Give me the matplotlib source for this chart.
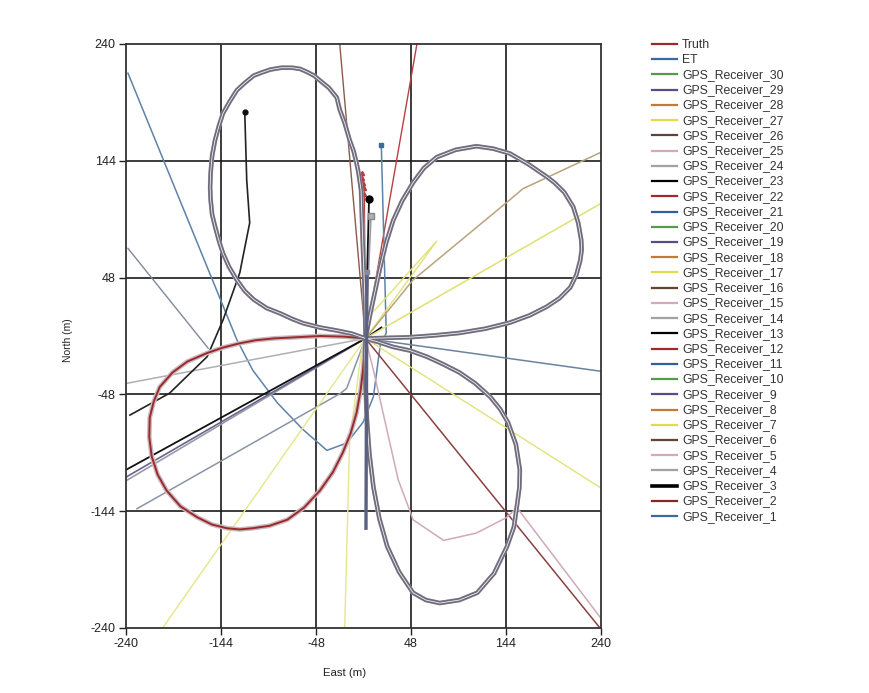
import matplotlib
matplotlib.use('Agg')
import matplotlib.pyplot as plt
from matplotlib.lines import Line2D

plt.rcParams['font.family'] = ['Liberation Sans', 'DejaVu Sans']

# ---------------- data (metres) ----------------
tick_values = [-240, -144, -48, 48, 144, 240]
tick_labels = ['-240', '-144', '-48', '48', '144', '240']

# Truth trajectory: clover with four lobes, each starting at the centre
ul_east = [2, 1.5, -0.5, -2.5, -5, -7, -10, -14, -19, -24, -27, -35, -44, -50, -57, -64, -72, -83, -94, -103,
           -111, -120, -128, -135, -142, -146, -150, -153, -154.5, -155, -154.5, -153, -150, -146, -142, -136,
           -128, -120, -111, -98, -84, -72, -61, -44, -27, -12]
ul_north = [-2, 30, 71, 120, 134, 142, 152, 161, 175, 186, 196, 204, 210, 214, 217, 219.5, 220.5, 220.5, 219, 216.5,
            214, 208, 202, 193, 183, 173, 161, 148, 134, 122, 112, 100, 90, 78, 68, 57,
            46, 37, 30, 23, 18.5, 14, 10.5, 7, 4.5, 2]
ur_east = [2, 25, 47, 72, 97, 123, 148, 168, 185, 198, 209, 215, 219, 220.5, 220, 217, 212, 203, 193, 185,
           167, 148, 131, 114, 93, 74, 61, 50, 39, 30, 23, 17, 12, 7]
ur_north = [-2, -1.5, -1, 0.5, 2.5, 6, 11, 17, 24, 31, 40, 50, 62, 71, 79, 93, 106, 118, 126, 131,
            141, 150, 154, 156, 153, 147, 138, 126, 111, 95, 77, 57, 38, 19]
lr_east = [2, 1.5, 2, 3.5, 6, 10, 16, 24, 36, 50, 63, 77, 97, 115, 132, 145, 152, 155, 157.5, 158,
           154, 146, 138, 128, 113, 97, 80, 64, 47, 30, 15]
lr_north = [-2, -14, -40, -69, -97, -124, -150, -173, -194, -211, -217, -219.5, -217, -211, -195, -173, -157, -140, -125, -110,
            -89, -71, -60, -50, -39, -30, -23, -17, -12, -9, -5]
ll_east = [2, -20, -44, -68, -91, -109, -125, -142, -158, -178, -193, -206, -212, -216, -216.5, -214, -208, -199,
           -185, -168, -153, -138, -125, -112, -95, -77, -60, -44, -31, -21, -13, -7, -3, -0.5, 1, 2]
ll_north = [-2, -0.5, 0, -1, -2, -3.5, -6, -9.5, -14, -21, -30, -42, -54, -67, -83, -99, -114, -127,
            -140, -149, -155, -158, -159, -158, -156, -151, -141, -127, -112, -96, -80, -63, -45, -28, -13, -2]

truth_east = ul_east + ur_east + lr_east + ll_east
truth_north = ul_north + ur_north + lr_north + ll_north
et_east = ul_east + ur_east + lr_east + [2]
et_north = ul_north + ur_north + lr_north + [-2]

r26_east, r26_north = [2, -24], [-2, 240]
r22_east, r22_north = [2, 54], [-2, 240]
r12_east, r12_north = [-1.8, -1.2, -0.5, 0.2, 0.8, 2], [134, 130, 125.5, 121.5, 117, -2]
r11_east = [18, 23, 17, 10, -0.5, -17, -37, -61, -87, -112, -128, -238]
r11_north = [157, 2.5, -7, -50, -71, -88, -94, -77, -55, -28, -3, 216]
r14_east, r14_north = [-157, -238], [-10, 72]
r4_east, r4_north = [2, -240], [-2, -39]
r3_east, r3_north = [2, -240], [-2, -110]
r29_east, r29_north = [2, -240], [-2, -116]
r24_east, r24_north = [-240, 2, 7.6], [-119, -2, 98.6]
r1_east, r1_north = [-229, -23, -17, 2], [-142, -47, -43, -2]
r13_east = [-120, -118, -115, -125, -142, -158, -196, -236]
r13_north = [184, 128, 93, 52, 13, -17, -47, -65]
r23_east, r23_north = [5.6, 2, 18], [113, -2, 7]
r9_east, r9_north = [3.5, 2.5], [53, -158]
r27_east, r27_north = [240, 2, 74, 10], [-125, -2, 78, 20]
r17_east, r17_north = [2, 240], [-2, 109]
r7_east, r7_north = [-203, 2, -2, -14, -19], [-240, -2, -12, -86, -240]
r28_east, r28_north = [2, 50, 148, 161, 240], [-2, 46, 112, 121, 151]
r2_east, r2_north = [2, 238], [-2, -239]
r25_east = [2, 10, 35, 47, 50, 81, 114, 145, 155, 239]
r25_north = [-2, -28, -118, -144, -151, -168, -162, -149, -141, -231]
r21_east, r21_north = [2, 240], [-2, -29]

legend_labels = ['Truth', 'ET',
                 'GPS_Receiver_30', 'GPS_Receiver_29', 'GPS_Receiver_28', 'GPS_Receiver_27',
                 'GPS_Receiver_26', 'GPS_Receiver_25', 'GPS_Receiver_24', 'GPS_Receiver_23',
                 'GPS_Receiver_22', 'GPS_Receiver_21', 'GPS_Receiver_20', 'GPS_Receiver_19',
                 'GPS_Receiver_18', 'GPS_Receiver_17', 'GPS_Receiver_16', 'GPS_Receiver_15',
                 'GPS_Receiver_14', 'GPS_Receiver_13', 'GPS_Receiver_12', 'GPS_Receiver_11',
                 'GPS_Receiver_10', 'GPS_Receiver_9', 'GPS_Receiver_8', 'GPS_Receiver_7',
                 'GPS_Receiver_6', 'GPS_Receiver_5', 'GPS_Receiver_4', 'GPS_Receiver_3',
                 'GPS_Receiver_2', 'GPS_Receiver_1']

# ---------------- styles ----------------
RED = '#9b2a2a'
BLUE = '#3a6b9a'
GREEN = '#55994a'
PURPLE = '#5b4c84'
ORANGE = '#c27c32'
YELLOW = '#dcdc50'
BROWN = '#5f4436'
PINK = '#d8a8b8'
GRAY = '#a2a2a2'
BLACK = '#000000'
legend_colors = [RED, BLUE,
                 GREEN, PURPLE, ORANGE, YELLOW, BROWN, PINK, GRAY, BLACK, '#a32828', '#30609a',
                 GREEN, PURPLE, ORANGE, YELLOW, BROWN, PINK, GRAY, BLACK, '#a32828', '#30609a',
                 GREEN, PURPLE, ORANGE, YELLOW, BROWN, PINK, GRAY, BLACK, '#8b2424', BLUE]
legend_widths = [1.6] * 32
legend_widths[29] = 2.6

W, H = 870, 693
fig = plt.figure(figsize=(W / 100, H / 100), dpi=100)
ax = fig.add_axes([126 / W, 1 - 628 / H, 475 / W, 584 / H])
ax.set_xlim(-240, 240)
ax.set_ylim(-240, 240)
ax.set_xticks(tick_values)
ax.set_yticks(tick_values)
ax.set_xticklabels(tick_labels, fontsize=9)
ax.set_yticklabels(tick_labels, fontsize=9)
ax.tick_params(direction='out', length=5, width=1, pad=2.5, colors='#222222')
for v in tick_values[1:-1]:
    ax.axvline(v, color='#1a1a1a', lw=1.2, zorder=0.5)
    ax.axhline(v, color='#1a1a1a', lw=1.2, zorder=0.5)
for s in ax.spines.values():
    s.set_color('#333333')
    s.set_linewidth(1.3)

def thin(e, n, c, lw=1.0, z=2, **kw):
    ax.plot(e, n, color=c, lw=lw, zorder=z, solid_joinstyle='round', **kw)

# receiver lines
thin(r26_east, r26_north, '#8a5a4c', 1.0)
thin(r22_east, r22_north, '#b84040', 1.0)
thin(r12_east, r12_north, '#b04040', 1.0, marker='^', markersize=3, markevery=[0, 1, 2, 3, 4])
thin(r11_east, r11_north, '#5e82a8', 1.1)
ax.plot(r11_east[:1], r11_north[:1], 's', color='#3a6b9a', markersize=3.5, zorder=3)
thin(r14_east, r14_north, '#808a98', 1.0)
thin(r4_east, r4_north, '#b0b0b0', 1.1)
thin(r24_east, r24_north, '#9a9aa8', 1.2)
ax.plot(r24_east[-1:], r24_north[-1:], 's', color='#b0b0b0', mec='#888888', markersize=4, zorder=3)
thin(r29_east, r29_north, '#6a6590', 1.2)
thin(r3_east, r3_north, '#111111', 1.3)
thin(r1_east, r1_north, '#8a94a4', 1.1)
thin(r13_east, r13_north, '#222222', 1.2)
ax.plot(r13_east[:1], r13_north[:1], 'o', color='#111111', markersize=3.5, zorder=3)
thin(r23_east, r23_north, '#111111', 1.3)
ax.plot(r23_east[:1], r23_north[:1], 'o', color='#000000', markersize=5, zorder=3)
thin(r27_east, r27_north, '#e2e27a', 1.0)
thin(r17_east, r17_north, '#e0e070', 1.1)
thin(r7_east, r7_north, '#e6e68a', 1.0)
thin(r28_east, r28_north, '#b8a47c', 1.1)
thin(r2_east, r2_north, '#8a4040', 1.1)
thin(r25_east, r25_north, '#cfaab8', 1.1)
thin(r21_east, r21_north, '#6a84a0', 1.1)

# truth and ET
ax.plot(truth_east, truth_north, color='#cbbac2', lw=3.4, zorder=4, solid_joinstyle='round')
ax.plot(truth_east, truth_north, color=RED, lw=1.4, zorder=4.1, solid_joinstyle='round')
ax.plot(et_east, et_north, color='#6e6c7c', lw=3.1, zorder=5, solid_joinstyle='round')
ax.plot(et_east, et_north, color='#f2f2f4', lw=0.6, zorder=5.1, solid_joinstyle='round')

thin(r9_east, r9_north, '#5a6080', 2.4, z=6)
ax.plot(r9_east[:1], r9_north[:1], 's', color='#8a8a9a', markersize=3, zorder=6)

# axis labels
fig.text(345 / W, 1 - 673 / H, 'East (m)', ha='center', va='center', fontsize=8.2, color='#222222')
fig.text(68 / W, 1 - 340 / H, 'North (m)', ha='center', va='center', rotation=90, fontsize=7.5, color='#222222')

# legend (drawn manually to match the original layout)
for i, (lab, col) in enumerate(zip(legend_labels, legend_colors)):
    y = 44 + i * 15.23
    fig.add_artist(Line2D([652 / W, 677 / W], [1 - y / H, 1 - y / H], transform=fig.transFigure,
                          color=col, lw=legend_widths[i]))
    fig.text(682 / W, 1 - (y + 0.5) / H, lab, ha='left', va='center', fontsize=8.8, color='#333333')

fig.savefig('out.png', dpi=100)
